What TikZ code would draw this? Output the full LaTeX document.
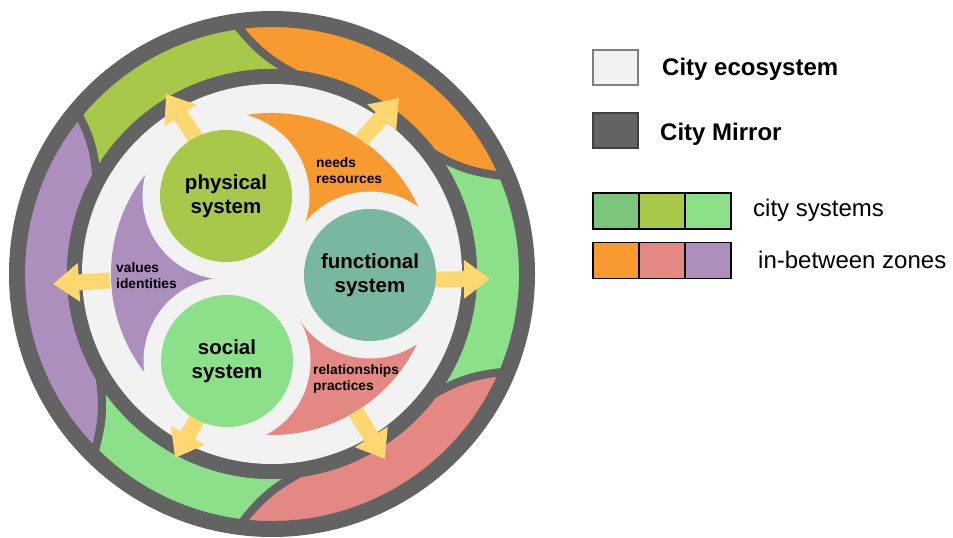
\documentclass[tikz,border=0pt]{standalone}
\usepackage{fontspec}
\setmainfont{Liberation Sans}
\usetikzlibrary{arrows.meta}
\definecolor{mirror}{HTML}{636363}
\definecolor{eco}{HTML}{F2F2F2}
\definecolor{gy}{HTML}{A8C84A}
\definecolor{org}{HTML}{F89A2F}
\definecolor{lgreen}{HTML}{8CE08A}
\definecolor{teal}{HTML}{79B7A0}
\definecolor{pink}{HTML}{E48883}
\definecolor{purp}{HTML}{AC8FBD}
\definecolor{arrowy}{HTML}{FDD770}
\definecolor{mgreen}{HTML}{7BC67B}
\begin{document}
\begin{tikzpicture}[x=1pt,y=1pt,
  seg/.style={line width=8pt, draw=mirror, line join=round, line cap=round},
  sl/.style={bend left=12},
  sr/.style={bend right=12},
  sysc/.style={circle, minimum size=132pt, inner sep=0pt, align=center, font=\fontsize{20.5}{24}\selectfont\bfseries},
  zlab/.style={anchor=west, inner sep=0pt, align=left, font=\fontsize{13.8}{16}\selectfont\bfseries},
  yarrow/.style={draw=arrowy, line width=16pt, -{Triangle[width=37pt,length=26pt]}},
  lbox/.style={line width=1.2pt, minimum width=45pt, minimum height=35pt, inner sep=0pt},
  lcell/.style={draw=black, line width=1.2pt, minimum width=46pt, minimum height=36pt, inner sep=0pt},
  ltext/.style={anchor=west, inner sep=0pt, font=\fontsize{24}{28}\selectfont}
]
\useasboundingbox (0,0) rectangle (953,538);
\begin{scope}[shift={(272,264)}]
  % city mirror disk
  \fill[mirror] (0,0) circle (263);
  % outer band segments
  \path[seg, fill=gy] (98:251) arc[start angle=98, end angle=140.5, radius=251] to[sl] (151:201) arc[start angle=151, end angle=83, radius=201] to[sl] (98:251) -- cycle;
  \path[seg, fill=org] (23:251) arc[start angle=23, end angle=98, radius=251] to[sr] (83:201) arc[start angle=83, end angle=37, radius=201] to[sr] (23:251) -- cycle;
  \path[seg, fill=lgreen] (-23:251) arc[start angle=-23, end angle=23, radius=251] to[sl] (37:201) arc[start angle=37, end angle=-37, radius=201] to[sl] (-23:251) -- cycle;
  \path[seg, fill=pink] (-97:251) arc[start angle=-97, end angle=-23, radius=251] to[sr] (-37:201) arc[start angle=-37, end angle=-82, radius=201] to[sr] (-97:251) -- cycle;
  \path[seg, fill=lgreen] (-135:251) arc[start angle=-135, end angle=-97, radius=251] to[sl] (-82:201) arc[start angle=-82, end angle=-149, radius=201] to[sl] (-135:251) -- cycle;
  \path[seg, fill=purp] (140.5:251) arc[start angle=140.5, end angle=225, radius=251] to[sr] (211:201) arc[start angle=211, end angle=151, radius=201] to[sr] (140.5:251) -- cycle;
  % inner mirror ring and ecosystem disk
  \fill[mirror] (0,0) circle (205);
  \fill[eco] (0,0) circle (190);
  % in-between zones
  \fill[org] (0:47) arc[start angle=0, end angle=120.5, radius=47] -- (120.5:161) arc[start angle=120.5, end angle=0, radius=161] -- cycle;
  \fill[purp] (120.5:47) arc[start angle=120.5, end angle=242.6, radius=47] -- (242.6:161) arc[start angle=242.6, end angle=120.5, radius=161] -- cycle;
  \fill[pink] (242.6:47) arc[start angle=242.6, end angle=359.4, radius=47] -- (359.4:161) arc[start angle=359.4, end angle=242.6, radius=161] -- cycle;
  % gaps around systems
  \coordinate (pc) at (-46,78);
  \coordinate (fc) at (98,-1);
  \coordinate (sc) at (-45,-87);
  \fill[eco] (pc) circle (83.5);
  \fill[eco] (fc) circle (83.5);
  \fill[eco] (sc) circle (83.5);
  % arrows
  \coordinate (pa0) at (-75,134);   \coordinate (pa1) at (-106,180);
  \coordinate (oa0) at (89.5,134);  \coordinate (oa1) at (127,176);
  \coordinate (fa0) at (160,-5.5);  \coordinate (fa1) at (218,-5);
  \coordinate (ka0) at (83.5,-137.5); \coordinate (ka1) at (113,-185);
  \coordinate (sa0) at (-70.5,-137); \coordinate (sa1) at (-97,-184);
  \coordinate (va0) at (-162,-6.5); \coordinate (va1) at (-219,-10);
  \draw[yarrow] (pa0) -- (pa1);
  \draw[yarrow] (oa0) -- (oa1);
  \draw[yarrow] (fa0) -- (fa1);
  \draw[yarrow] (ka0) -- (ka1);
  \draw[yarrow] (sa0) -- (sa1);
  \draw[yarrow] (va0) -- (va1);
  % systems
  \node[sysc, fill=gy] (phys) at (pc) {physical\\system};
  \node[sysc, fill=teal] (func) at (fc) {functional\\system};
  \node[sysc, fill=lgreen] (soc) at (sc) {social\\system};
  % zone labels
  \node[zlab] (needs) at (44,103) {needs\\resources};
  \node[zlab] (vals) at (-156,-1.5) {values\\identities};
  \node[zlab] (rels) at (41,-105) {relationships\\practices};
\end{scope}
% legend
\node[lbox, fill=eco, draw=gray] (leco) at (615.5,470.5) {};
\node[lbox, fill=mirror, draw=black!75] (lmir) at (615.5,407.5) {};
\node[lcell, fill=mgreen] (ls1) at (616,327) {};
\node[lcell, fill=gy] (ls2) at (662,327) {};
\node[lcell, fill=lgreen] (ls3) at (708,327) {};
\node[lcell, fill=org] (lz1) at (616,277.5) {};
\node[lcell, fill=pink] (lz2) at (662,277.5) {};
\node[lcell, fill=purp] (lz3) at (708,277.5) {};
\node[ltext, font=\fontsize{24}{28}\selectfont\bfseries] (teco) at (662,468.5) {City ecosystem};
\node[ltext, font=\fontsize{24}{28}\selectfont\bfseries] (tmir) at (660,404) {City Mirror};
\node[ltext] (tsys) at (753,327.5) {city systems};
\node[ltext] (tzon) at (758,278.5) {in-between zones};
\end{tikzpicture}
\end{document}
